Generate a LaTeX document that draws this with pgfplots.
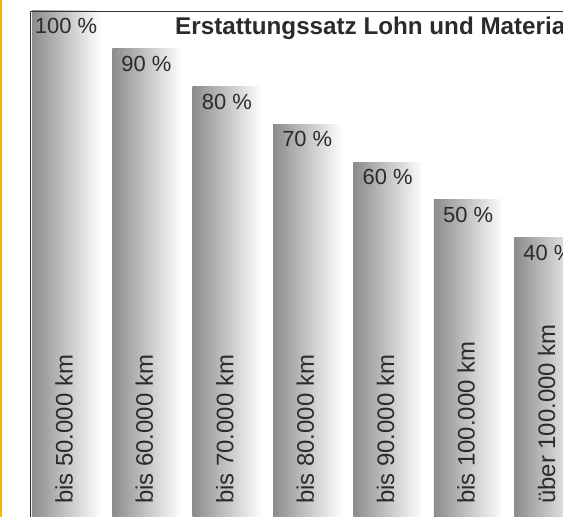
\documentclass[border=0pt]{standalone}
\usepackage{fontspec}
\setmainfont{Liberation Sans}
\usepackage{pgfplots}
\pgfplotsset{compat=1.18}
\definecolor{ygold}{HTML}{F2B705}
\definecolor{txt}{HTML}{2B2B2B}
\definecolor{barL}{HTML}{8C8C8C}
\definecolor{barR}{HTML}{FDFDFD}
\pgfplotsset{
  mybar/.style={ybar, bar width=0.85, draw=none, left color=barL, right color=barR,
    nodes near coords={\pgfplotspointmeta~\%}, point meta=explicit symbolic,
    every node near coord/.append style={anchor=north, inner sep=0pt, yshift=-7bp,
      font=\fontsize{22}{22}\selectfont, text=txt}},
}
\begin{document}
\begin{tikzpicture}[x=1bp,y=1bp]
\useasboundingbox (0,0) rectangle (563,517);
\fill[white] (0,0) rectangle (563,517);
\begin{scope}
\clip (0,0) rectangle (563,517);
\begin{axis}[
  at={(30bp,0bp)}, anchor=south west,
  scale only axis, width=566.7bp, height=506bp,
  xmin=-0.448, xmax=6.6, ymin=0, ymax=134,
  axis x line=top, axis y line=left,
  axis line style={-, draw=black!80, line width=0.9bp},
  xtick=\empty, ytick=\empty,
  axis on top,
  clip=false,
]
% plotted height = percentage + 34 (baseline lies below the visible crop)
\addplot[mybar] table[x=x, y expr=\thisrow{p}+34, meta=p] {
  x p
  0 100
  };
\addplot[mybar] table[x=x, y expr=\thisrow{p}+34, meta=p] {
  x p
  1 90
  };
\addplot[mybar] table[x=x, y expr=\thisrow{p}+34, meta=p] {
  x p
  2 80
  };
\addplot[mybar] table[x=x, y expr=\thisrow{p}+34, meta=p] {
  x p
  3 70
  };
\addplot[mybar] table[x=x, y expr=\thisrow{p}+34, meta=p] {
  x p
  4 60
  };
\addplot[mybar] table[x=x, y expr=\thisrow{p}+34, meta=p] {
  x p
  5 50
  };
\addplot[mybar] table[x=x, y expr=\thisrow{p}+34, meta=p] {
  x p
  6 40
  };
\addplot[draw=none, mark=none,
  nodes near coords={\pgfplotspointmeta}, point meta=explicit symbolic,
  every node near coord/.append style={xshift=-2bp, rotate=90, anchor=west, inner sep=0pt,
    font=\fontsize{24}{24}\selectfont, text=txt}]
  coordinates {(0,3.44) [bis 50.000 km] (1,3.44) [bis 60.000 km] (2,3.44) [bis 70.000 km]
    (3,3.44) [bis 80.000 km] (4,3.44) [bis 90.000 km] (5,3.44) [bis 100.000 km]
    (6,3.44) [über 100.000 km]};
\node[anchor=base west, inner sep=0pt, font=\bfseries\fontsize{24.3}{24.3}\selectfont, text=txt]
  at (rel axis cs:0.2559,0.9526) {Erstattungssatz Lohn und Material};
\end{axis}
\end{scope}
\fill[ygold] (0,0) rectangle (2,517);
\end{tikzpicture}
\end{document}
